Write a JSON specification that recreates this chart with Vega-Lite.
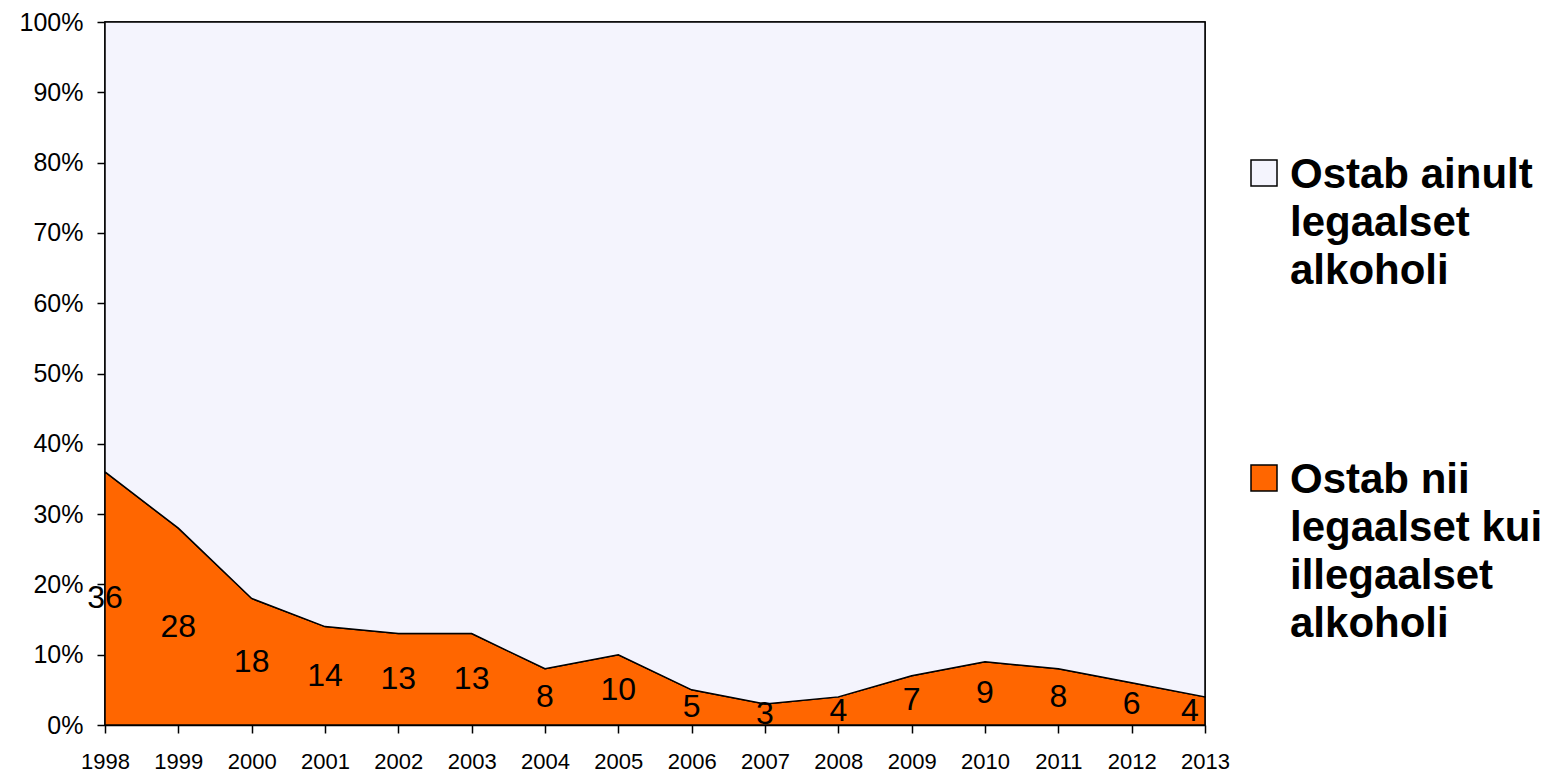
{
  "$schema": "https://vega.github.io/schema/vega-lite/v6.json",
  "width": 1100,
  "height": 703,
  "autosize": {"type": "none"},
  "padding": {"left": 105, "top": 22, "right": 349, "bottom": 49},
  "background": "white",
  "config": {
    "font": "Liberation Sans",
    "view": {"stroke": "black", "strokeWidth": 1.5},
    "axis": {
      "domainColor": "black",
      "domainWidth": 1.5,
      "tickColor": "black",
      "tickWidth": 1.5,
      "tickSize": 8,
      "labelColor": "black",
      "labelFont": "Liberation Sans",
      "grid": false,
      "title": null
    }
  },
  "data": {
    "values": [
      {"year": 1998, "series": "Ostab nii legaalset kui illegaalset alkoholi", "pct": 36},
      {"year": 1999, "series": "Ostab nii legaalset kui illegaalset alkoholi", "pct": 28},
      {"year": 2000, "series": "Ostab nii legaalset kui illegaalset alkoholi", "pct": 18},
      {"year": 2001, "series": "Ostab nii legaalset kui illegaalset alkoholi", "pct": 14},
      {"year": 2002, "series": "Ostab nii legaalset kui illegaalset alkoholi", "pct": 13},
      {"year": 2003, "series": "Ostab nii legaalset kui illegaalset alkoholi", "pct": 13},
      {"year": 2004, "series": "Ostab nii legaalset kui illegaalset alkoholi", "pct": 8},
      {"year": 2005, "series": "Ostab nii legaalset kui illegaalset alkoholi", "pct": 10},
      {"year": 2006, "series": "Ostab nii legaalset kui illegaalset alkoholi", "pct": 5},
      {"year": 2007, "series": "Ostab nii legaalset kui illegaalset alkoholi", "pct": 3},
      {"year": 2008, "series": "Ostab nii legaalset kui illegaalset alkoholi", "pct": 4},
      {"year": 2009, "series": "Ostab nii legaalset kui illegaalset alkoholi", "pct": 7},
      {"year": 2010, "series": "Ostab nii legaalset kui illegaalset alkoholi", "pct": 9},
      {"year": 2011, "series": "Ostab nii legaalset kui illegaalset alkoholi", "pct": 8},
      {"year": 2012, "series": "Ostab nii legaalset kui illegaalset alkoholi", "pct": 6},
      {"year": 2013, "series": "Ostab nii legaalset kui illegaalset alkoholi", "pct": 4},
      {"year": 1998, "series": "Ostab ainult legaalset alkoholi", "pct": 64},
      {"year": 1999, "series": "Ostab ainult legaalset alkoholi", "pct": 72},
      {"year": 2000, "series": "Ostab ainult legaalset alkoholi", "pct": 82},
      {"year": 2001, "series": "Ostab ainult legaalset alkoholi", "pct": 86},
      {"year": 2002, "series": "Ostab ainult legaalset alkoholi", "pct": 87},
      {"year": 2003, "series": "Ostab ainult legaalset alkoholi", "pct": 87},
      {"year": 2004, "series": "Ostab ainult legaalset alkoholi", "pct": 92},
      {"year": 2005, "series": "Ostab ainult legaalset alkoholi", "pct": 90},
      {"year": 2006, "series": "Ostab ainult legaalset alkoholi", "pct": 95},
      {"year": 2007, "series": "Ostab ainult legaalset alkoholi", "pct": 97},
      {"year": 2008, "series": "Ostab ainult legaalset alkoholi", "pct": 96},
      {"year": 2009, "series": "Ostab ainult legaalset alkoholi", "pct": 93},
      {"year": 2010, "series": "Ostab ainult legaalset alkoholi", "pct": 91},
      {"year": 2011, "series": "Ostab ainult legaalset alkoholi", "pct": 92},
      {"year": 2012, "series": "Ostab ainult legaalset alkoholi", "pct": 94},
      {"year": 2013, "series": "Ostab ainult legaalset alkoholi", "pct": 96}
    ]
  },
  "layer": [
    {
      "mark": {"type": "area", "stroke": "black", "strokeWidth": 1.5, "opacity": 1},
      "encoding": {
        "x": {
          "field": "year",
          "type": "quantitative",
          "scale": {"domain": [1998, 2013], "nice": false, "zero": false},
          "axis": {
            "values": [1998, 1999, 2000, 2001, 2002, 2003, 2004, 2005, 2006, 2007, 2008, 2009, 2010, 2011, 2012, 2013],
            "format": "d",
            "labelFontSize": 22,
            "labelPadding": 18,
            "labelFlush": false,
            "labelOverlap": false
          }
        },
        "y": {
          "field": "pct",
          "type": "quantitative",
          "stack": "zero",
          "scale": {"domain": [0, 100], "nice": false},
          "axis": {
            "values": [0, 10, 20, 30, 40, 50, 60, 70, 80, 90, 100],
            "labelExpr": "datum.value + '%'",
            "labelFontSize": 25,
            "labelPadding": 14,
            "labelFlush": false,
            "labelOverlap": false
          }
        },
        "color": {
          "field": "series",
          "type": "nominal",
          "scale": {
            "domain": ["Ostab ainult legaalset alkoholi", "Ostab nii legaalset kui illegaalset alkoholi"],
            "range": ["#f4f4fd", "#ff6600"]
          },
          "legend": {
            "title": null,
            "orient": "none",
            "legendX": 1138,
            "legendY": 130,
            "symbolType": "square",
            "symbolSize": 676,
            "symbolStrokeColor": "black",
            "symbolStrokeWidth": 1.5,
            "symbolOpacity": 1,
            "labelFontSize": 42,
            "labelFontWeight": "bold",
            "labelColor": "black",
            "labelBaseline": "alphabetic",
            "labelOffset": 5,
            "labelLimit": 400,
            "rowPadding": 165,
            "labelExpr": "datum.label == 'Ostab ainult legaalset alkoholi' ? ['Ostab ainult', 'legaalset', 'alkoholi'] : ['Ostab nii', 'legaalset kui', 'illegaalset', 'alkoholi']",
            "encode": {"labels": {"update": {"dy": {"value": 15}, "lineHeight": {"value": 48}}}}
          }
        },
        "order": {"field": "series", "sort": "descending"}
      }
    },
    {
      "transform": [{"filter": "datum.series == 'Ostab nii legaalset kui illegaalset alkoholi' && datum.year < 2013"}],
      "mark": {"type": "text", "fontSize": 32, "color": "black", "font": "Liberation Sans"},
      "encoding": {
        "x": {"field": "year", "type": "quantitative"},
        "y": {"field": "pct", "type": "quantitative", "stack": "zero", "bandPosition": 0.5},
        "text": {"field": "pct", "type": "quantitative"}
      }
    },
    {
      "transform": [{"filter": "datum.series == 'Ostab nii legaalset kui illegaalset alkoholi' && datum.year == 2013"}],
      "mark": {"type": "text", "fontSize": 32, "color": "black", "font": "Liberation Sans", "dx": -15},
      "encoding": {
        "x": {"field": "year", "type": "quantitative"},
        "y": {"field": "pct", "type": "quantitative", "stack": "zero", "bandPosition": 0.5},
        "text": {"field": "pct", "type": "quantitative"}
      }
    }
  ]
}
